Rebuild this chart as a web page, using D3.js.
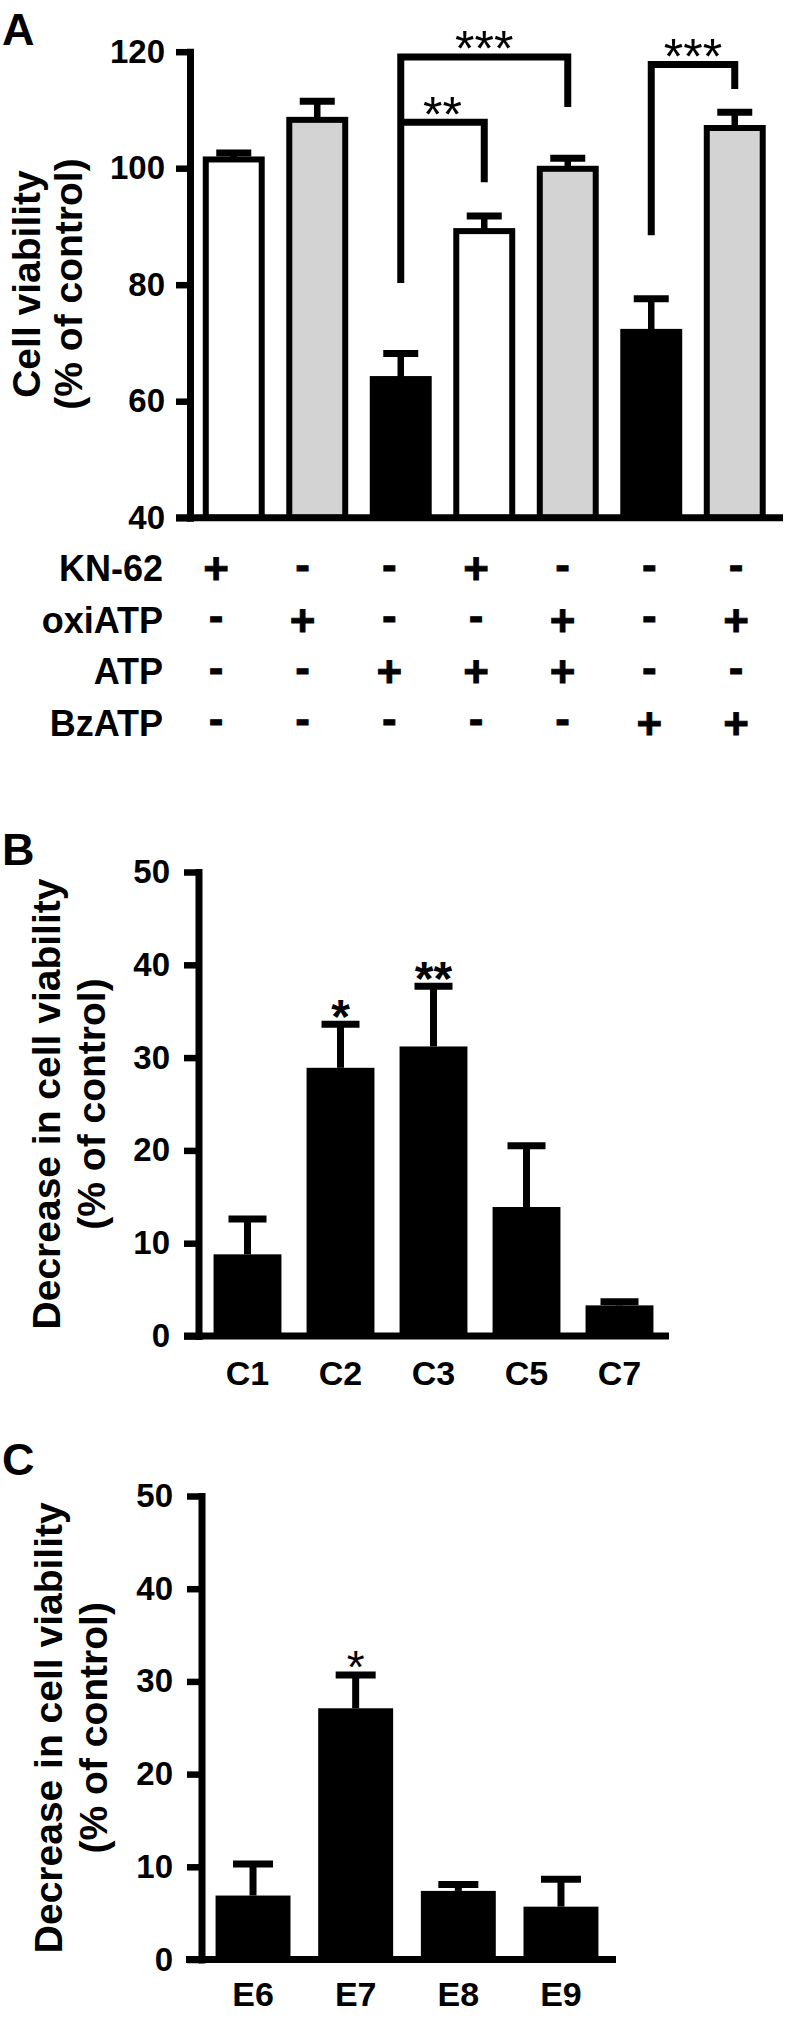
<!DOCTYPE html>
<html>
<head>
<meta charset="utf-8">
<script src="https://cdn.jsdelivr.net/npm/d3@7"></script>
<style>
body { margin: 0; background: #fff; }
svg text { font-family: "Liberation Sans", Arial, Helvetica, sans-serif; }
</style>
</head>
<body>
<svg id="fig" width="786" height="2035"></svg>
<script>
// ---- panel A: cell viability, % of control ----
var groupsA = [0, 1, 2, 3, 4, 5, 6];
var meansA = [101.5, 108.3, 63.8, 89.2, 99.9, 71.9, 106.9];
var semA = [1.1, 3.2, 4.4, 2.6, 1.8, 5.7, 2.7];
var ticksA = [40, 60, 80, 100, 120];

// treatment table under panel A (1 = "+", 0 = "-")
var treatLabels = ["KN-62", "oxiATP", "ATP", "BzATP"];
var treatKN62 = [1, 0, 0, 1, 0, 0, 0];
var treatOxiATP = [0, 1, 0, 0, 1, 0, 1];
var treatATP = [0, 0, 1, 1, 1, 0, 0];
var treatBzATP = [0, 0, 0, 0, 0, 1, 1];

// significance brackets: from bar, to bar, top value, left leg end, right leg end, label
var bracketsA = [
    [2, 4, 119.1, 80.3, 110.5, "***"],
    [2, 3, 107.9, 107.9, 97.6, "**"],
    [5, 6, 117.8, 88.5, 113.6, "***"]
];

// ---- panel B ----
var catsB = ["C1", "C2", "C3", "C5", "C7"];
var meansB = [8.8, 28.9, 31.2, 13.9, 3.3];
var semB = [3.8, 4.7, 6.5, 6.6, 0.4];
var starsB = ["", "*", "**", "", ""];

// ---- panel C ----
var catsC = ["E6", "E7", "E8", "E9"];
var meansC = [6.9, 27.1, 7.4, 5.7];
var semC = [3.4, 3.6, 0.7, 2.95];
var starsC = ["", "*", "", ""];

var ticksBC = [0, 10, 20, 30, 40, 50];

var svg = d3.select('#fig');
svg.append('rect').attr('width', 786).attr('height', 2035).attr('fill', '#fff');

function styleAxis(g, fontSize) {
    g.select('.domain').attr('stroke-width', 7).attr('stroke-linecap', 'square');
    g.selectAll('.tick line').attr('stroke-width', 6.5);
    g.selectAll('.tick text')
        .style('font-size', fontSize + 'px')
        .style('font-weight', 'bold')
        .attr('fill', '#000');
}

function panelLetter(txt, y) {
    svg.append('text')
        .attr('x', 2).attr('y', y)
        .style('font-size', '45px').style('font-weight', 'bold')
        .text(txt);
}

function yLabel(lines, xs, cy) {
    lines.forEach(function(t, i) {
        svg.append('text')
            .attr('transform', 'translate(' + xs[i] + ',' + cy + ') rotate(-90)')
            .attr('text-anchor', 'middle')
            .style('font-size', '39px').style('font-weight', 'bold')
            .text(t);
    });
}

// ======== panel A ========
(function() {
    var yA = d3.scaleLinear().domain([40, 120]).range([517.7, 51.7]);
    var xA = d3.scaleBand().domain(groupsA).range([192, 776.5])
        .paddingInner(0.33).paddingOuter(0.165);
    var g = svg.append('g');

    panelLetter('A', 45);
    yLabel(['Cell viability', '(% of control)'], [40, 82], 284);

    var ax = g.append('g').attr('transform', 'translate(190,0)')
        .call(d3.axisLeft(yA).tickValues(ticksA).tickSize(14).tickPadding(11).tickSizeOuter(0));
    styleAxis(ax, 33);

    function fillFor(i) {
        if (treatOxiATP[i]) return '#d3d3d3';
        if (treatKN62[i]) return '#fff';
        return '#000';
    }

    g.selectAll('rect.bar').data(groupsA).enter().append('rect')
        .attr('class', 'bar')
        .attr('x', function(d) { return xA(d); })
        .attr('width', xA.bandwidth())
        .attr('y', function(d) { return yA(meansA[d]); })
        .attr('height', function(d) { return yA(40) - yA(meansA[d]); })
        .attr('fill', function(d) { return fillFor(d); })
        .attr('stroke', '#000')
        .attr('stroke-width', 6);

    var cx = function(d) { return xA(d) + xA.bandwidth() / 2; };
    g.selectAll('line.err').data(groupsA).enter().append('line')
        .attr('x1', cx).attr('x2', cx)
        .attr('y1', function(d) { return yA(meansA[d]); })
        .attr('y2', function(d) { return yA(meansA[d] + semA[d]); })
        .attr('stroke', '#000').attr('stroke-width', 6.5);
    g.selectAll('line.cap').data(groupsA).enter().append('line')
        .attr('x1', function(d) { return cx(d) - 17.5; })
        .attr('x2', function(d) { return cx(d) + 17.5; })
        .attr('y1', function(d) { return yA(meansA[d] + semA[d]); })
        .attr('y2', function(d) { return yA(meansA[d] + semA[d]); })
        .attr('stroke', '#000').attr('stroke-width', 7);

    // baseline
    g.append('line')
        .attr('x1', 176).attr('x2', 783)
        .attr('y1', yA(40)).attr('y2', yA(40))
        .attr('stroke', '#000').attr('stroke-width', 7);

    // brackets + stars
    bracketsA.forEach(function(b) {
        var x1 = cx(b[0]), x2 = cx(b[1]);
        g.append('path')
            .attr('d', 'M' + x1 + ',' + yA(b[3]) + 'V' + yA(b[2]) + 'H' + x2 + 'V' + yA(b[4]))
            .attr('fill', 'none').attr('stroke', '#000').attr('stroke-width', 7)
            .attr('stroke-linejoin', 'miter');
        g.append('text')
            .attr('x', (x1 + x2) / 2)
            .attr('y', yA(b[2]) - 12 + 0.43 * 50)
            .attr('text-anchor', 'middle')
            .style('font-size', '50px')
            .text(b[5]);
    });

    // treatment table
    var rows = [treatKN62, treatOxiATP, treatATP, treatBzATP];
    var rowY = d3.scalePoint().domain(treatLabels).range([568.5, 723]);
    var colX = d3.scalePoint().domain(groupsA).range([216, 736]);
    var symSize = 44;
    treatLabels.forEach(function(lab, r) {
        var yc = rowY(lab);
        g.append('text')
            .attr('x', 163).attr('y', yc + 12.8)
            .attr('text-anchor', 'end')
            .style('font-size', '36px').style('font-weight', 'bold')
            .text(lab);
        g.selectAll(null).data(rows[r]).enter().append('text')
            .attr('x', function(d, i) { return colX(i); })
            .attr('y', function(d) { return yc + (d ? 0.353 : 0.26) * symSize; })
            .attr('text-anchor', 'middle')
            .style('font-size', symSize + 'px').style('font-weight', 'bold')
            .attr('stroke', '#000').attr('stroke-width', 0.8)
            .text(function(d) { return d ? '+' : '-'; });
    });
})();

// ======== panels B and C ========
function drawSmall(o) {
    var y = d3.scaleLinear().domain([0, 50]).range([o.y0, o.y50]);
    var x = d3.scaleBand().domain(o.cats).range(o.xRange)
        .paddingInner(0.27).paddingOuter(0.135);
    var g = svg.append('g');

    panelLetter(o.letter, o.letterY);
    yLabel(['Decrease in cell viability', '(% of control)'], o.labX, (o.y0 + o.y50) / 2);

    var ax = g.append('g').attr('transform', 'translate(' + o.axisX + ',0)')
        .call(d3.axisLeft(y).tickValues(ticksBC).tickSize(14.5).tickPadding(14).tickSizeOuter(0));
    styleAxis(ax, 33);

    var cx = function(d) { return x(d) + x.bandwidth() / 2; };
    g.selectAll('rect.bar').data(o.cats).enter().append('rect')
        .attr('x', function(d) { return x(d); })
        .attr('width', x.bandwidth())
        .attr('y', function(d, i) { return y(o.means[i]); })
        .attr('height', function(d, i) { return y(0) - y(o.means[i]); })
        .attr('fill', '#000');
    g.selectAll('line.err').data(o.cats).enter().append('line')
        .attr('x1', cx).attr('x2', cx)
        .attr('y1', function(d, i) { return y(o.means[i]); })
        .attr('y2', function(d, i) { return y(o.means[i] + o.sem[i]); })
        .attr('stroke', '#000').attr('stroke-width', 7);
    g.selectAll('line.cap').data(o.cats).enter().append('line')
        .attr('x1', function(d) { return cx(d) - o.capW / 2; })
        .attr('x2', function(d) { return cx(d) + o.capW / 2; })
        .attr('y1', function(d, i) { return y(o.means[i] + o.sem[i]); })
        .attr('y2', function(d, i) { return y(o.means[i] + o.sem[i]); })
        .attr('stroke', '#000').attr('stroke-width', 7);
    g.selectAll('text.star').data(o.cats).enter().append('text')
        .attr('x', cx)
        .attr('y', function(d, i) { return y(o.means[i] + o.sem[i]) - 11.5 + 0.43 * o.starSize; })
        .attr('text-anchor', 'middle')
        .style('font-size', o.starSize + 'px')
        .style('font-weight', o.starWeight)
        .text(function(d, i) { return o.stars[i]; });

    g.append('line')
        .attr('x1', o.baseX[0]).attr('x2', o.baseX[1])
        .attr('y1', y(0)).attr('y2', y(0))
        .attr('stroke', '#000').attr('stroke-width', 7);

    g.selectAll('text.cat').data(o.cats).enter().append('text')
        .attr('x', cx)
        .attr('y', o.catY)
        .attr('text-anchor', 'middle')
        .style('font-size', '34px').style('font-weight', 'bold')
        .text(function(d) { return d; });
}

drawSmall({
    cats: catsB, means: meansB, sem: semB, stars: starsB,
    y0: 1336, y50: 872, axisX: 198.5, xRange: [201, 666], baseX: [184, 669],
    capW: 38, starSize: 48, starWeight: 'bold', catY: 1385,
    letter: 'B', letterY: 865, labX: [60, 105]
});

drawSmall({
    cats: catsC, means: meansC, sem: semC, stars: starsC,
    y0: 1959.5, y50: 1496, axisX: 201.5, xRange: [201.7, 612.3], baseX: [186, 616],
    capW: 40, starSize: 46, starWeight: 'normal', catY: 2006,
    letter: 'C', letterY: 1475, labX: [62, 107]
});
</script>
</body>
</html>
